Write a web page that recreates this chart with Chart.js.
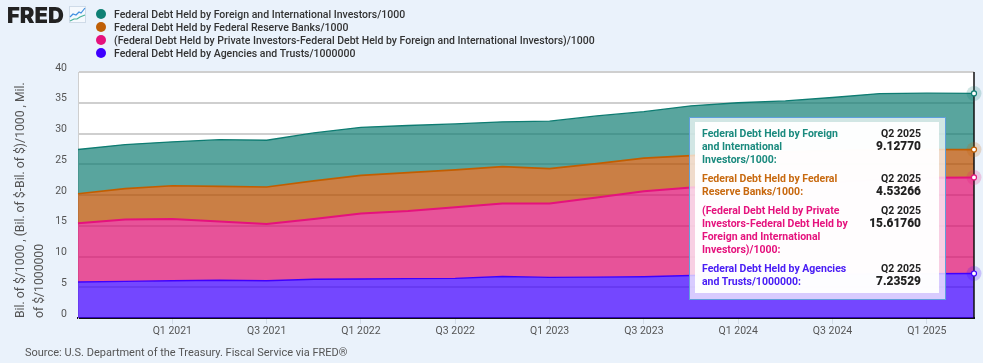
<!DOCTYPE html>
<html>
<head>
<meta charset="utf-8">
<script src="https://cdn.jsdelivr.net/npm/chart.js@4"></script>
<style>
html, body { margin: 0; padding: 0; background: #eaf2fb; overflow: hidden; }
body { width: 983px; height: 363px; position: relative; font-family: Roboto, sans-serif; }
#Chart { position: absolute; left: 0; top: 0; }
#logo { position: absolute; left: 7px; top: 1px; font: 900 22px/28px Inter, sans-serif; color: #222; letter-spacing: 0; }
#icon { position: absolute; left: 69px; top: 6px; }
#legend { position: absolute; left: 96px; top: 8px; font-size: 10.5px; font-weight: 500; color: #333; }
#legend div { height: 12.9px; line-height: 13px; white-space: nowrap; position: relative; padding-left: 18px; }
#legend i { position: absolute; left: 0; top: 1px; width: 10px; height: 10px; border-radius: 50%; }
#source { position: absolute; left: 25px; top: 346px; font-size: 11px; line-height: 14px; color: #555; white-space: nowrap; }
#tip { position: absolute; left: 689px; top: 117px; width: 255px; height: 181px; border: 1px solid #5f9fdc; background: rgba(255,255,255,.72); }
#tip_in { position: absolute; left: 5px; top: 4px; width: 244px; height: 171px; background: rgba(255,255,255,.95); font-size: 10.5px; line-height: 13px; font-weight: 700; }
.row { position: absolute; left: 7px; width: 219px; }
.row .lab { width: 150px; }
.row .val { position: absolute; right: 0; top: 0; text-align: right; color: #222; }
.row b { display: block; font-size: 11.9px; }
</style>
</head>
<body>
<canvas id="Chart" width="983" height="363"></canvas>
<div id="logo">FRED</div>
<svg id="icon" width="17" height="17" viewBox="0 0 17 17">
  <rect x="0.5" y="0.5" width="16" height="16" fill="#f5f9fd" stroke="#cfdbe8"/>
  <polyline points="1,11 4,8 7,9 10,6 12,7 16,2" fill="none" stroke="#3f8fe0" stroke-width="1.2"/>
  <polyline points="1,15 5,13 8,13 11,11 16,9" fill="none" stroke="#4bb39a" stroke-width="1.2"/>
</svg>
<div id="legend"></div>
<div id="source">Source: U.S. Department of the Treasury. Fiscal Service via FRED®</div>
<div id="tip"><div id="tip_in"></div></div>

<script>
var quarters = ["Q3 2020","Q4 2020","Q1 2021","Q2 2021","Q3 2021","Q4 2021","Q1 2022","Q2 2022","Q3 2022","Q4 2022",
                "Q1 2023","Q2 2023","Q3 2023","Q4 2023","Q1 2024","Q2 2024","Q3 2024","Q4 2024","Q1 2025","Q2 2025"];
var tick_labels = ["Q1 2021","Q3 2021","Q1 2022","Q3 2022","Q1 2023","Q3 2023","Q1 2024","Q3 2024","Q1 2025"];

var agencies = [5.85,5.95,6.05,6.15,6.05,6.3,6.35,6.4,6.45,6.75,6.6,6.65,6.7,6.9,7.0,7.0,7.1,7.15,7.2,7.23529];
var priv_less_foreign = [9.55,10.05,10.05,9.55,9.25,9.8,10.65,11.0,11.55,11.85,12.0,12.95,13.9,14.3,14.4,14.7,15.0,15.35,15.6,15.6176];
var fed_banks = [4.8,5.05,5.4,5.7,6.0,6.2,6.2,6.25,6.1,6.0,5.7,5.5,5.4,5.2,5.4,5.3,5.1,4.9,4.6,4.53266];
var foreign = [7.2,7.15,7.15,7.6,7.6,7.8,7.8,7.65,7.45,7.3,7.7,7.75,7.55,8.1,8.2,8.3,8.65,9.1,9.15,9.1277];

var name_foreign = "Federal Debt Held by Foreign and International Investors/1000";
var name_fed = "Federal Debt Held by Federal Reserve Banks/1000";
var name_priv = "(Federal Debt Held by Private Investors-Federal Debt Held by Foreign and International Investors)/1000";
var name_agencies = "Federal Debt Held by Agencies and Trusts/1000000";
var y_title = ["Bil. of $/1000 , (Bil. of $-Bil. of $)/1000 , Mil.", "of $/1000000"];

var teal = "#0e7c72", orange = "#c25e00", pink = "#e5127d", purple = "#3f00ff";

// legend + tooltip go top to bottom, chart stacks bottom to top
var legend_rows = [[name_foreign, "#0f8074"], [name_fed, "#bf5f06"], [name_priv, "#e5127d"], [name_agencies, "#3f00ff"]];
var legend_html = "";
legend_rows.forEach(a => {
    legend_html += '<div><i style="background:' + a[1] + '"></i>' + a[0] + '</div>';
});
document.getElementById("legend").innerHTML = legend_html;

var last = quarters.length - 1;
var tip_rows = [
    [name_foreign, "#1a8a7e", foreign[last], 5],
    [name_fed, "#c8690f", fed_banks[last], 50],
    [name_priv, pink, priv_less_foreign[last], 82],
    [name_agencies, "#4a1ef5", agencies[last], 140]
];
var tip_html = "";
tip_rows.forEach(a => {
    tip_html += '<div class="row" style="top:' + a[3] + 'px;color:' + a[1] + '"><div class="lab">' + a[0] + ':</div>' +
        '<div class="val">' + quarters[last] + '<b>' + a[2].toFixed(5) + '</b></div></div>';
});
document.getElementById("tip_in").innerHTML = tip_html;

Chart.defaults.font.family = "Roboto, sans-serif";
Chart.defaults.color = "#555";

var plot_bits = {
    id: "plot_bits",
    beforeDraw(chart) {
        var a = chart.chartArea, c = chart.ctx;
        c.fillStyle = "#fff";
        c.fillRect(a.left, a.top, a.right - a.left, a.bottom - a.top);
    },
    afterDatasetsDraw(chart) {
        var a = chart.chartArea, c = chart.ctx;
        c.save();
        // hover line at last quarter
        c.strokeStyle = "#111";
        c.lineWidth = 1.5;
        c.beginPath();
        c.moveTo(a.right, a.top);
        c.lineTo(a.right, a.bottom);
        c.stroke();
        chart.data.datasets.forEach((d, i) => {
            var p = chart.getDatasetMeta(i).data[last];
            c.globalAlpha = 0.2;
            c.fillStyle = d.borderColor;
            c.beginPath();
            c.arc(p.x, p.y, 7.5, 0, Math.PI * 2);
            c.fill();
            c.globalAlpha = 1;
            c.fillStyle = "#fff";
            c.strokeStyle = d.borderColor;
            c.lineWidth = 1.2;
            c.beginPath();
            c.arc(p.x, p.y, 2.5, 0, Math.PI * 2);
            c.fill();
            c.stroke();
        });
        c.restore();
    }
};

new Chart(document.getElementById("Chart").getContext("2d"), {
    type: "line",
    plugins: [plot_bits],
    data: {
        labels: quarters,
        datasets: [
            { label: name_agencies, data: agencies, borderColor: purple, borderWidth: 1.4, backgroundColor: "rgba(63,0,255,.72)", fill: "origin" },
            { label: name_priv, data: priv_less_foreign, borderColor: pink, borderWidth: 2, backgroundColor: "rgba(221,10,110,.7)", fill: "-1" },
            { label: name_fed, data: fed_banks, borderColor: orange, borderWidth: 1.7, backgroundColor: "rgba(182,80,0,.73)", fill: "-1" },
            { label: name_foreign, data: foreign, borderColor: teal, borderWidth: 1.3, backgroundColor: "rgba(14,124,114,.69)", fill: "-1" }
        ]
    },
    options: {
        responsive: false,
        animation: false,
        layout: { padding: { top: 72, right: 9, left: 0, bottom: 0 } },
        elements: { line: { tension: 0 }, point: { radius: 0 } },
        plugins: { legend: { display: false }, tooltip: { enabled: false } },
        scales: {
            x: {
                grid: {
                    drawOnChartArea: false,
                    tickLength: 6,
                    tickColor: c => tick_labels.includes(quarters[c.index]) ? "#d3dce8" : "transparent"
                },
                border: { color: "#111", width: 2 },
                ticks: {
                    autoSkip: false,
                    maxRotation: 0,
                    font: { size: 10.5 },
                    padding: 1,
                    callback: function (v) {
                        var q = this.getLabelForValue(v);
                        return tick_labels.includes(q) ? q : "";
                    }
                },
                afterFit(s) { s.height = 45; }
            },
            y: {
                stacked: true,
                min: 0,
                max: 40,
                grid: { color: "#cfcfcf", lineWidth: 2, drawTicks: false },
                border: { color: "#cfcfcf", width: 1 },
                ticks: { stepSize: 5, padding: 11, labelOffset: -4, font: { size: 10.5 } },
                title: {
                    display: true,
                    text: y_title,
                    align: "start",
                    font: { size: 12.2, lineHeight: 1.5 },
                    padding: { top: 12, bottom: 0 }
                },
                afterFit(s) { s.width = 78; }
            }
        }
    }
});
</script>
</body>
</html>
